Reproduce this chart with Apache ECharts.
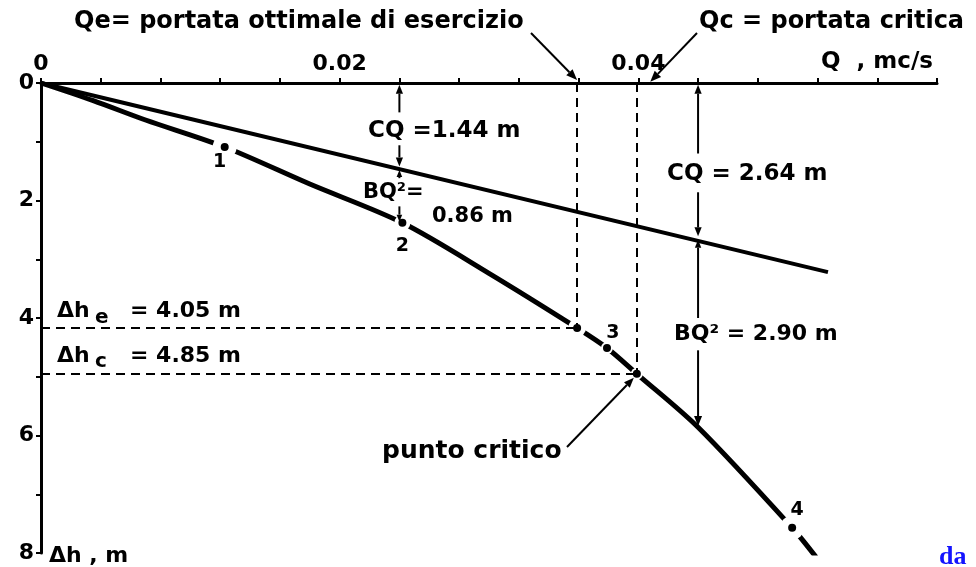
<!DOCTYPE html>
<html>
<head>
<meta charset="utf-8">
<script src="https://cdn.jsdelivr.net/npm/echarts@6/dist/echarts.min.js"></script>
<style>
html, body { margin: 0; padding: 0; background: #fff; }
#chart { width: 976px; height: 567px; }
</style>
</head>
<body>
<div id="chart"></div>
<script>
// Q in mc/s, Δh in m
const lineQ = [0, 0.0527];
const lineH = [0, 3.22];
const curveQ = [0, 0.0035, 0.007, 0.0123, 0.018, 0.0242, 0.030, 0.0359, 0.0379, 0.0399, 0.044, 0.0503, 0.0519];
const curveH = [0, 0.30, 0.63, 1.09, 1.72, 2.38, 3.24, 4.17, 4.51, 4.95, 5.86, 7.57, 8.07];
const pointNames = ['1', '2', '3', '4'];
const pointQ = [0.0123, 0.0242, 0.0379, 0.0503];
const pointH = [1.09, 2.38, 4.51, 7.57];
const optimum = [0.0359, 4.17];   // Qe , Δhe
const critical = [0.0399, 4.95];  // Qc , Δhc
const measureQ = [0.024, 0.044];
const measureCQ = [1.44, 2.63];
const measureH = [2.36, 5.84];
const xTicks = [0, 0.02, 0.04];
const yTicks = [0, 2, 4, 6, 8];

const FONT = '"DejaVu Sans", sans-serif';
const chart = echarts.init(document.getElementById('chart'));

const line = lineQ.map((q, i) => [q, lineH[i]]);
const curve = curveQ.map((q, i) => [q, curveH[i]]);
const dots = pointQ.map((q, i) => [q, pointH[i]]).concat([optimum, critical]);
// white gap drawn round each dot, the curve is broken there
const haloSize = [24, 16, 12, 24, 18, 12];
const labelOffset = [[-5, 15], [0, 23], [6, -15], [5, -18]];

function isTick(list, v) {
    return list.some(t => Math.abs(t - v) < 1e-9);
}

const dashed = { color: '#000', width: 2, type: [9, 6] };

const option = {
    animation: false,
    grid: { left: 41, right: 39, top: 83, bottom: 14 },
    xAxis: {
        type: 'value',
        position: 'top',
        min: 0,
        max: 0.06,
        interval: 0.004,
        axisLine: { lineStyle: { color: '#000', width: 3 } },
        axisTick: { length: 5, lineStyle: { color: '#000', width: 2 } },
        splitLine: { show: false },
        axisLabel: {
            margin: 8, color: '#000', fontFamily: FONT, fontWeight: 'bold', fontSize: 22,
            formatter: v => isTick(xTicks, v) ? String(+v.toFixed(3)) : ''
        }
    },
    yAxis: {
        type: 'value',
        inverse: true,
        min: 0,
        max: 8,
        interval: 1,
        axisLine: { lineStyle: { color: '#000', width: 3 } },
        axisTick: { length: 5, lineStyle: { color: '#000', width: 2 } },
        splitLine: { show: false },
        axisLabel: {
            margin: 7, color: '#000', fontFamily: FONT, fontWeight: 'bold', fontSize: 22,
            formatter: v => isTick(yTicks, v) ? String(v) : ''
        }
    },
    series: [
        {
            type: 'line', data: line, symbol: 'none', z: 2,
            lineStyle: { color: '#000', width: 4 }
        },
        {
            type: 'line', data: curve, symbol: 'none', smooth: 0.3, z: 2,
            lineStyle: { color: '#000', width: 5 },
            markLine: {
                silent: true, symbol: 'none', animation: false,
                label: { show: false },
                lineStyle: dashed,
                data: [
                    [{ coord: [0, optimum[1]] }, { coord: optimum }],
                    [{ coord: [optimum[0], 0] }, { coord: optimum }],
                    [{ coord: [0, critical[1]] }, { coord: critical }],
                    [{ coord: [critical[0], 0] }, { coord: critical }]
                ]
            }
        },
        {
            type: 'scatter', data: dots, z: 3, silent: true,
            symbolSize: (v, p) => haloSize[p.dataIndex],
            itemStyle: { color: '#fff', opacity: 1 }
        },
        {
            type: 'scatter', z: 4, silent: true, symbolSize: 8,
            itemStyle: { color: '#000', opacity: 1 },
            data: dots.map((d, i) => ({
                value: d,
                label: i < pointNames.length ? {
                    show: true, position: 'inside', offset: labelOffset[i],
                    formatter: pointNames[i], color: '#000',
                    fontFamily: FONT, fontWeight: 'bold', fontSize: 19
                } : { show: false }
            }))
        }
    ]
};
chart.setOption(option);

// annotations: arrows and texts
const px = (q, h) => chart.convertToPixel({ gridIndex: 0 }, [q, h]);

function arrow(p1, p2, width, head) {
    const dx = p2[0] - p1[0], dy = p2[1] - p1[1];
    const len = Math.sqrt(dx * dx + dy * dy);
    const ux = dx / len, uy = dy / len;
    const bx = p2[0] - ux * head, by = p2[1] - uy * head;
    const w = head * 0.4;
    return [
        { type: 'line', shape: { x1: p1[0], y1: p1[1], x2: bx, y2: by }, style: { stroke: '#000', lineWidth: width }, z: 10 },
        { type: 'polygon', shape: { points: [p2, [bx - uy * w, by + ux * w], [bx + uy * w, by - ux * w]] }, style: { fill: '#000' }, z: 10 }
    ];
}

function text(str, x, y, size) {
    return {
        type: 'text', z: 11,
        style: {
            text: str, x: x, y: y, fill: '#000',
            font: 'bold ' + size + 'px ' + FONT,
            align: 'left', verticalAlign: 'middle',
            textAlign: 'left', textVerticalAlign: 'middle'
        }
    };
}

let g = [];
// CQ and BQ² measures
const q1 = measureQ[0], q2 = measureQ[1];
g = g.concat(arrow(px(q1, 0.5), px(q1, 0.03), 2, 9));
g = g.concat(arrow(px(q1, 1.06), px(q1, measureCQ[0] - 0.02), 2, 9));
g = g.concat(arrow(px(q1, 1.62), px(q1, measureCQ[0] + 0.04), 2, 7));
g = g.concat(arrow(px(q1, 2.1), px(q1, measureH[0]), 2, 7));
g = g.concat(arrow(px(q2, 1.2), px(q2, 0.03), 2, 9));
g = g.concat(arrow(px(q2, 1.86), px(q2, measureCQ[1] - 0.02), 2, 9));
g = g.concat(arrow(px(q2, 4.0), px(q2, measureCQ[1] + 0.04), 2, 8));
g = g.concat(arrow(px(q2, 4.55), px(q2, measureH[1]), 2, 10));

g.push(text('CQ =1.44 m', 368, 131, 23));
g.push(text('BQ²=', 363, 193, 21));
g.push(text('0.86 m', 432, 217, 21));
g.push(text('CQ = 2.64 m', 667, 174, 23));
g.push(text('BQ² = 2.90 m', 674, 334, 22));

// Δhe and Δhc
g.push(text('Δh', 57, 311, 22));
g.push(text('e', 95, 318, 20));
g.push(text('= 4.05 m', 130, 311, 22));
g.push(text('Δh', 57, 356, 22));
g.push(text('c', 95, 362, 20));
g.push(text('= 4.85 m', 130, 356, 22));

// titles on top
g.push(text('Qe= portata ottimale di esercizio', 74, 22, 24));
g = g.concat(arrow([531, 33], px(optimum[0], -0.05), 2, 11));
g.push(text('Qc = portata critica', 699, 22, 24));
g = g.concat(arrow([697, 33], px(critical[0] + 0.0009, -0.02), 2, 11));

// punto critico
g.push(text('punto critico', 382, 451, 25));
const cp = px(critical[0], critical[1]);
g = g.concat(arrow([567, 447], [cp[0] - 3, cp[1] + 4], 2, 10));

// axis names
g.push(text('Q  , mc/s', 821, 62, 23));
g.push(text('Δh , m', 49, 556, 22));

g.push({
    type: 'text', z: 11,
    style: {
        text: 'da', x: 939, y: 557, fill: '#1414ff',
        font: 'bold 26px "Liberation Serif", serif',
        align: 'left', verticalAlign: 'middle', textAlign: 'left', textVerticalAlign: 'middle'
    }
});

chart.setOption({ graphic: { elements: g } });
</script>
</body>
</html>
